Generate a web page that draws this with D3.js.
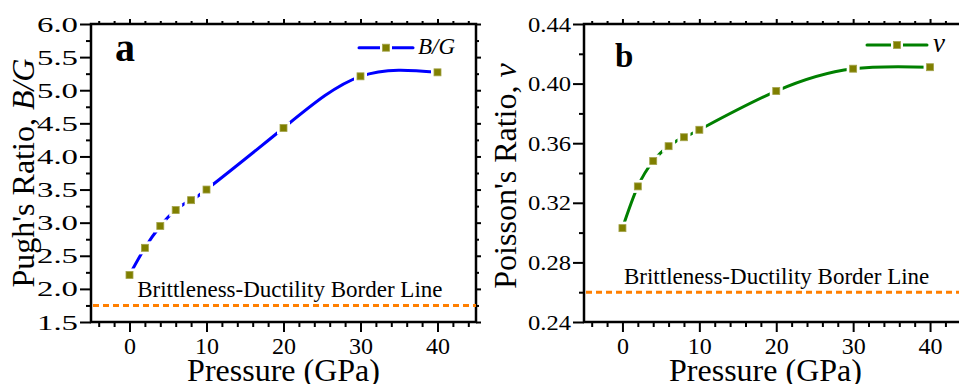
<!DOCTYPE html>
<html>
<head>
<meta charset="utf-8">
<script src="https://cdn.jsdelivr.net/npm/d3@7"></script>
<style>
  body { margin: 0; background: #fff; }
  svg { display: block; }
  svg text { font-family: "Liberation Serif", "Times New Roman", Times, "DejaVu Serif", serif !important; fill: #000; }
</style>
</head>
<body>
<svg id="chart" width="959" height="384"></svg>
<script>
// Pressure points (GPa)
const pressure = [0, 2, 4, 6, 8, 10, 20, 30, 40];
// Pugh's ratio B/G at each pressure
const pughRatio = [2.21, 2.62, 2.95, 3.19, 3.34, 3.50, 4.43, 5.21, 5.27];
// Poisson's ratio v at each pressure
const poissonRatio = [0.303, 0.331, 0.348, 0.358, 0.364, 0.369, 0.395, 0.410, 0.411];
// Brittle/ductile criteria
const pughBorder = 1.75;
const poissonBorder = 0.26;

const xMajorTicks = [0, 10, 20, 30, 40];
const xMinorTicks = [-4, -2, 2, 4, 6, 8, 12, 14, 16, 18, 22, 24, 26, 28, 32, 34, 36, 38, 42, 44];
const pughMajorTicks = [1.5, 2.0, 2.5, 3.0, 3.5, 4.0, 4.5, 5.0, 5.5, 6.0];
const pughMinorTicks = [1.75, 2.25, 2.75, 3.25, 3.75, 4.25, 4.75, 5.25, 5.75];
const poissonMajorTicks = [0.24, 0.28, 0.32, 0.36, 0.40, 0.44];
const poissonMinorTicks = [0.26, 0.30, 0.34, 0.38, 0.42];

const svg = d3.select("#chart");
const serif = "'Liberation Serif', 'Times New Roman', Times, 'DejaVu Serif', serif";

const panels = [
  {
    id: "a", letter: "a", letterSize: 40, letterPos: [115, 61],
    left: 91, right: 476, top: 24, bottom: 322,
    yDomain: [1.5, 6.0], values: pughRatio, border: pughBorder,
    majorY: pughMajorTicks, minorY: pughMinorTicks, yFmt: d3.format(".1f"), yLabelLen: 41,
    color: "#0000ff",
    yTitle: ["Pugh's Ratio, ", "B/G"], yTitleX: 34, yTitleCenter: 173,
    xTitleAt: 20, borderTextAt: 1.0,
    legend: { x1: 359, x2: 413, y: 47.7, text: "B/G", tx: 418, ty: 54, size: 23 }
  },
  {
    id: "b", letter: "b", letterSize: 33, letterPos: [615, 67],
    left: 584, right: 968.5, top: 24, bottom: 322,
    yDomain: [0.24, 0.44], values: poissonRatio, border: poissonBorder,
    majorY: poissonMajorTicks, minorY: poissonMinorTicks, yFmt: d3.format(".2f"), yLabelLen: 43,
    color: "#008000",
    yTitle: ["Poisson's Ratio, ", "\u03bd"], yTitleX: 516, yTitleCenter: 176,
    xTitleAt: 18.6, borderTextAt: 0.2,
    legend: { x1: 867, x2: 927, y: 45, text: "\u03bd", tx: 933, ty: 52, size: 27 }
  }
];

const markerSize = 7;
const gapSize = 13;

panels.forEach(p => {
  const x = d3.scaleLinear().domain([-5, 45]).range([p.left, p.right]);
  const y = d3.scaleLinear().domain(p.yDomain).range([p.bottom, p.top]);
  const g = svg.append("g");
  const pts = pressure.map((d, i) => [d, p.values[i]]);

  // Axes with major and minor ticks on all four sides
  function styleAxis(sel) {
    sel.attr("font-family", serif);
    sel.select(".domain").remove();
    sel.selectAll(".tick line").attr("stroke", "#000").attr("stroke-width", 2);
  }
  const bottomMajor = g.append("g").attr("transform", `translate(0,${p.bottom})`)
    .call(d3.axisBottom(x).tickValues(xMajorTicks).tickSize(10).tickPadding(5).tickFormat(d3.format("d")));
  styleAxis(bottomMajor);
  bottomMajor.selectAll("text").style("font-size", "24px");
  styleAxis(g.append("g").attr("transform", `translate(0,${p.bottom})`)
    .call(d3.axisBottom(x).tickValues(xMinorTicks).tickSize(5).tickFormat("")));
  styleAxis(g.append("g").attr("transform", `translate(0,${p.top})`)
    .call(d3.axisTop(x).tickValues(xMajorTicks).tickSize(5).tickFormat("")));
  styleAxis(g.append("g").attr("transform", `translate(0,${p.top})`)
    .call(d3.axisTop(x).tickValues(xMinorTicks).tickSize(3).tickFormat("")));

  const leftMajor = g.append("g").attr("transform", `translate(${p.left},0)`)
    .call(d3.axisLeft(y).tickValues(p.majorY).tickSize(11).tickPadding(2).tickFormat(p.yFmt));
  styleAxis(leftMajor);
  leftMajor.selectAll("text")
    .style("font-size", "22px")
    .attr("textLength", p.yLabelLen).attr("lengthAdjust", "spacingAndGlyphs");
  styleAxis(g.append("g").attr("transform", `translate(${p.left},0)`)
    .call(d3.axisLeft(y).tickValues(p.minorY).tickSize(5).tickFormat("")));
  styleAxis(g.append("g").attr("transform", `translate(${p.right},0)`)
    .call(d3.axisRight(y).tickValues(p.majorY).tickSize(5).tickFormat("")));
  styleAxis(g.append("g").attr("transform", `translate(${p.right},0)`)
    .call(d3.axisRight(y).tickValues(p.minorY).tickSize(3).tickFormat("")));

  // Frame
  g.append("rect")
    .attr("x", p.left).attr("y", p.top)
    .attr("width", p.right - p.left).attr("height", p.bottom - p.top)
    .attr("fill", "none").attr("stroke", "#000").attr("stroke-width", 2.5);

  // Brittleness-ductility border line
  g.append("line")
    .attr("x1", p.left + 2).attr("x2", p.right)
    .attr("y1", y(p.border)).attr("y2", y(p.border))
    .attr("stroke", "#ff7f00").attr("stroke-width", 3)
    .attr("stroke-dasharray", "6,4");
  g.append("text")
    .attr("x", x(p.borderTextAt)).attr("y", y(p.border) - 8)
    .style("font-size", "23px")
    .text("Brittleness-Ductility Border Line");

  // Line is broken around each symbol
  const maskId = "gap-" + p.id;
  const mask = svg.append("defs").append("mask").attr("id", maskId)
    .attr("maskUnits", "userSpaceOnUse")
    .attr("x", 0).attr("y", 0).attr("width", 959).attr("height", 384);
  mask.append("rect").attr("width", 959).attr("height", 384).attr("fill", "#fff");
  mask.selectAll("rect.gap").data(pts).enter().append("rect").attr("class", "gap")
    .attr("x", d => x(d[0]) - gapSize / 2).attr("y", d => y(d[1]) - gapSize / 2)
    .attr("width", gapSize).attr("height", gapSize).attr("fill", "#000");
  const lg = p.legend;
  const lmx = (lg.x1 + lg.x2) / 2;
  mask.append("rect").attr("x", lmx - 6).attr("y", lg.y - 6).attr("width", 12).attr("height", 12).attr("fill", "#000");

  const line = d3.line().x(d => x(d[0])).y(d => y(d[1])).curve(d3.curveNatural);
  g.append("path")
    .datum(pts)
    .attr("d", line)
    .attr("fill", "none").attr("stroke", p.color).attr("stroke-width", 3)
    .attr("stroke-linecap", "round")
    .attr("mask", `url(#${maskId})`);

  g.selectAll("rect.marker").data(pts).enter().append("rect").attr("class", "marker")
    .attr("x", d => x(d[0]) - markerSize / 2).attr("y", d => y(d[1]) - markerSize / 2)
    .attr("width", markerSize).attr("height", markerSize)
    .attr("fill", "#7f7f00").attr("stroke", "#a3a34a").attr("stroke-width", 0.8);

  // Legend
  g.append("line")
    .attr("x1", lg.x1).attr("x2", lg.x2).attr("y1", lg.y).attr("y2", lg.y)
    .attr("stroke", p.color).attr("stroke-width", 3).attr("stroke-linecap", "round")
    .attr("mask", `url(#${maskId})`);
  g.append("rect")
    .attr("x", lmx - markerSize / 2).attr("y", lg.y - markerSize / 2)
    .attr("width", markerSize).attr("height", markerSize)
    .attr("fill", "#7f7f00").attr("stroke", "#a3a34a").attr("stroke-width", 0.8);
  g.append("text")
    .attr("x", lg.tx).attr("y", lg.ty)
    .style("font-size", lg.size + "px").style("font-style", "italic")
    .text(lg.text);

  // Panel letter
  g.append("text")
    .attr("x", p.letterPos[0]).attr("y", p.letterPos[1])
    .style("font-size", p.letterSize + "px").style("font-weight", "bold")
    .text(p.letter);

  // Axis titles
  g.append("text")
    .attr("x", x(p.xTitleAt)).attr("y", 381)
    .attr("text-anchor", "middle")
    .style("font-size", "32px")
    .text("Pressure (GPa)");
  const yt = g.append("text")
    .attr("transform", `translate(${p.yTitleX},${p.yTitleCenter}) rotate(-90)`)
    .attr("text-anchor", "middle")
    .style("font-size", "32px");
  yt.append("tspan").text(p.yTitle[0]);
  yt.append("tspan").style("font-style", "italic").text(p.yTitle[1]);
});
</script>
</body>
</html>
